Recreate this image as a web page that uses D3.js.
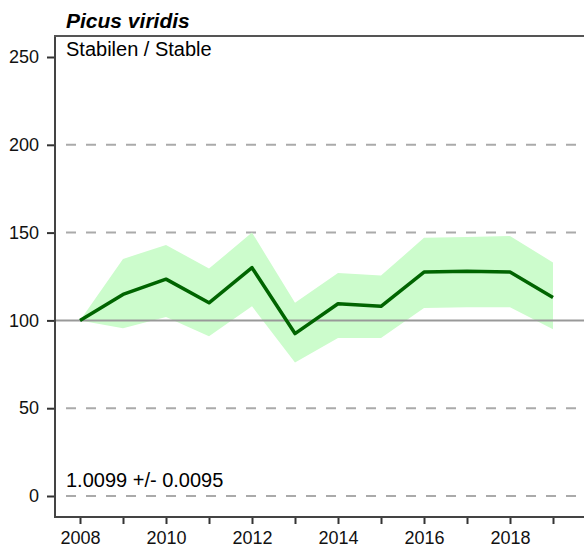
<!DOCTYPE html>
<html>
<head>
<meta charset="utf-8">
<script src="https://cdn.jsdelivr.net/npm/d3@7"></script>
<style>
  body { margin: 0; background: #fff; }
  text { font-family: "Liberation Sans", Arial, sans-serif; }
</style>
</head>
<body>
<div id="chart"></div>
<script>
    // data
    var years = [2008, 2009, 2010, 2011, 2012, 2013, 2014, 2015, 2016, 2017, 2018, 2019];
    var index = [100, 114.8, 123.5, 110, 130, 92.5, 109.5, 108, 127.5, 128, 127.5, 113];
    var upper = [100, 135, 143, 129.5, 150, 110, 127, 125.5, 147, 147.5, 148, 133];
    var lower = [100, 95.5, 102, 91, 108, 76, 90, 90, 107, 107.5, 107.5, 95];
    var yTicks = [0, 50, 100, 150, 200, 250];
    var gridValues = [0, 50, 150, 200];
    var xLabelYears = [2008, 2010, 2012, 2014, 2016, 2018];

    var svgWidth = 584;
    var svgHeight = 549;

    var margin = { top: 36, right: 0, bottom: 32, left: 55 };

    var svg = d3.select("#chart")
        .append("svg")
        .attr("width", svgWidth)
        .attr("height", svgHeight);

    var xScale = d3.scaleLinear()
        .domain([2008, 2019])
        .range([80, 553]);

    var yScale = d3.scaleLinear()
        .domain([0, 250])
        .range([496, 57]);

    var rows = years.map(function(y, i) {
        return { year: y, value: index[i], hi: upper[i], lo: lower[i] };
    });

    var plotBottom = svgHeight - margin.bottom;

    // dashed grid lines
    svg.append("g")
        .selectAll("line")
        .data(gridValues)
        .enter()
        .append("line")
        .attr("x1", 66)
        .attr("x2", svgWidth)
        .attr("y1", d => yScale(d))
        .attr("y2", d => yScale(d))
        .attr("stroke", "#aaaaaa")
        .attr("stroke-width", 2)
        .attr("stroke-dasharray", "10,10");

    // confidence band
    var band = d3.area()
        .x(d => xScale(d.year))
        .y0(d => yScale(d.lo))
        .y1(d => yScale(d.hi));

    svg.append("path")
        .datum(rows)
        .attr("d", band)
        .attr("fill", "#ccfccc");

    // reference line at 100
    svg.append("line")
        .attr("x1", margin.left)
        .attr("x2", svgWidth)
        .attr("y1", yScale(100))
        .attr("y2", yScale(100))
        .attr("stroke", "#999999")
        .attr("stroke-width", 2);

    // index line
    var line = d3.line()
        .x(d => xScale(d.year))
        .y(d => yScale(d.value));

    svg.append("path")
        .datum(rows)
        .attr("d", line)
        .attr("fill", "none")
        .attr("stroke", "#006400")
        .attr("stroke-width", 3.5)
        .attr("stroke-linejoin", "round");

    // axes
    var leftAxis = d3.axisLeft(yScale)
        .tickValues(yTicks)
        .tickSize(8)
        .tickPadding(8);

    var yAxis = svg.append("g")
        .attr("transform", `translate(${margin.left}, 0)`)
        .call(leftAxis);
    yAxis.select(".domain").remove();
    yAxis.selectAll("line").attr("stroke", "#333").attr("stroke-width", 2);
    yAxis.selectAll("text").style("font-size", "18px").attr("fill", "#111");

    var bottomAxis = d3.axisBottom(xScale)
        .tickValues(years)
        .tickSize(7)
        .tickPadding(7)
        .tickFormat(d => xLabelYears.indexOf(d) >= 0 ? d : "");

    var xAxis = svg.append("g")
        .attr("transform", `translate(0, ${plotBottom})`)
        .call(bottomAxis);
    xAxis.select(".domain").remove();
    xAxis.selectAll("line").attr("stroke", "#333").attr("stroke-width", 2);
    xAxis.selectAll("text").style("font-size", "18px").attr("fill", "#111");

    // frame
    svg.append("line")
        .attr("x1", margin.left).attr("x2", margin.left)
        .attr("y1", margin.top).attr("y2", plotBottom)
        .attr("stroke", "#444").attr("stroke-width", 2);
    svg.append("line")
        .attr("x1", margin.left - 1).attr("x2", svgWidth)
        .attr("y1", plotBottom).attr("y2", plotBottom)
        .attr("stroke", "#444").attr("stroke-width", 2);
    svg.append("line")
        .attr("x1", margin.left - 1).attr("x2", svgWidth)
        .attr("y1", margin.top).attr("y2", margin.top)
        .attr("stroke", "#555").attr("stroke-width", 2);

    // texts
    svg.append("text")
        .attr("x", 66).attr("y", 28)
        .style("font-size", "21px")
        .style("font-weight", "bold")
        .style("font-style", "italic")
        .text("Picus viridis");

    svg.append("text")
        .attr("x", 66).attr("y", 56)
        .style("font-size", "20px")
        .text("Stabilen / Stable");

    svg.append("text")
        .attr("x", 66).attr("y", 487)
        .style("font-size", "20px")
        .text("1.0099 +/- 0.0095");
</script>
</body>
</html>
